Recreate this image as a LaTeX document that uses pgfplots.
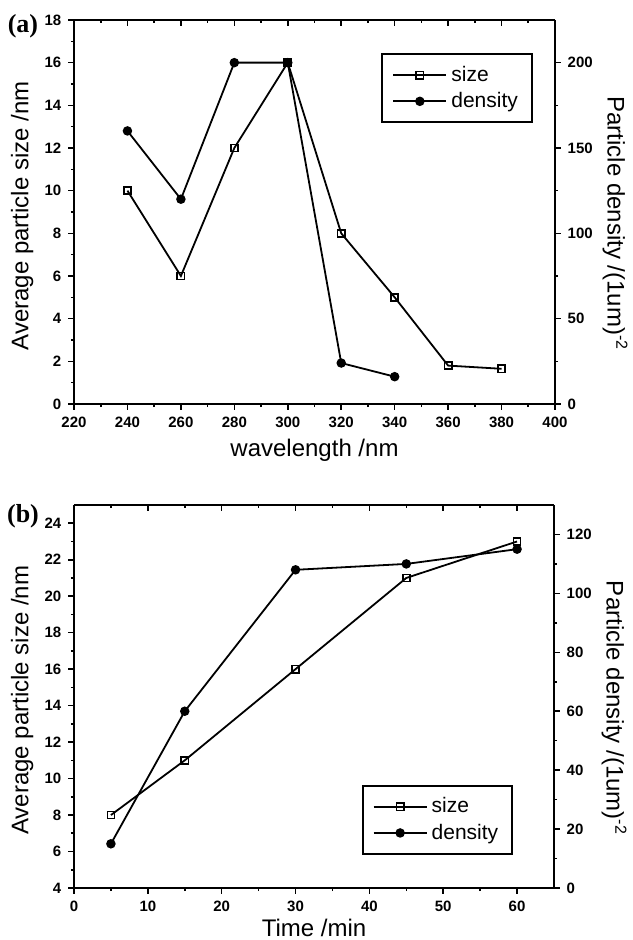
\documentclass[border=0pt]{standalone}
\usepackage{fontspec}
\setmainfont{Liberation Sans}
\newfontfamily\panelfont{Liberation Serif}
\usepackage{pgfplots}
\pgfplotsset{compat=1.18}

\pgfplotsset{
  base/.style={
    scale only axis,
    anchor=south west,
    axis line style={line width=1pt},
    tick style={line width=0.8pt, black},
    major tick length=2.8pt,
    minor tick length=1.6pt,
    tick align=outside,
    ticklabel style={font=\bfseries\fontsize{7.5}{8}\selectfont},
    /pgf/number format/assume math mode=true,
    label style={font=\fontsize{12}{14}\selectfont},
  },
  panelA/.style={base, at={(37pt,268pt)}, width=240.5pt, height=192pt,
    xmin=220, xmax=400, xtick={220,240,...,400}, minor x tick num=1},
  panelB/.style={base, at={(37pt,26pt)}, width=240pt, height=191.5pt,
    xmin=0, xmax=65, xtick={0,10,...,60}, minor x tick num=1},
  leftax/.style={axis x line*=bottom, axis y line*=left,
    ylabel={Average particle size /nm},
    ylabel style={at={(axis description cs:-0.108,0.49)}, anchor=center}},
  rightax/.style={axis x line=none, axis y line*=right,
    ylabel={Particle density /(1um)\textsuperscript{-2}},
    ylabel style={rotate=180, at={(axis description cs:1.125,0.47)}, anchor=center},
    legend cell align=left,
    legend image code/.code={\draw[mark repeat=2,mark phase=2,##1]
      plot coordinates {(0pt,0pt) (13.3pt,0pt) (26.6pt,0pt)};},
    legend style={draw=black, line width=1pt, font=\fontsize{10.5}{12}\selectfont,
      inner xsep=5pt, inner ysep=4pt}},
  topax/.style={axis x line*=top, axis y line=none, tick align=inside,
    xticklabels={}, ymin=0, ymax=1},
  sizeplot/.style={black, line width=0.9pt, mark=square, mark size=1.8pt,
    mark options={fill=white, solid, line width=0.8pt}},
  densplot/.style={black, line width=0.9pt, mark=*, mark size=1.9pt,
    mark options={solid}},
}

\begin{document}
\begin{tikzpicture}
\useasboundingbox (0,0) rectangle (316pt,470pt);

% (a) size and density against wavelength
\begin{axis}[panelA, leftax, ymin=0, ymax=18, ytick={0,2,...,18}, minor y tick num=1,
  xlabel={wavelength /nm},
  xlabel style={at={(axis description cs:0.5,-0.12)}, anchor=center}]
\addplot[sizeplot] coordinates {(240,10) (260,6) (280,12) (300,16) (320,8) (340,5) (360,1.8) (380,1.65)};
\end{axis}
\begin{axis}[panelA, rightax, ymin=0, ymax=225, ytick={0,50,...,200}, minor y tick num=1,
  legend style={at={(0.954,0.914)}, anchor=north east}]
\addlegendimage{sizeplot}
\addlegendentry{size}
\addplot[densplot] coordinates {(240,160) (260,120) (280,200) (300,200) (320,24) (340,16)};
\addlegendentry{density}
\end{axis}
\begin{axis}[panelA, topax]
\addplot[draw=none] coordinates {(220,0)};
\end{axis}

% (b) size and density against time
\begin{axis}[panelB, leftax, ymin=4, ymax=25, ytick={4,6,...,24}, minor y tick num=1,
  xlabel={Time /min},
  xlabel style={at={(axis description cs:0.5,-0.104)}, anchor=center}]
\addplot[sizeplot] coordinates {(5,8) (15,11) (30,16) (45,21) (60,23)};
\end{axis}
\begin{axis}[panelB, rightax, ymin=0, ymax=130, ytick={0,20,...,120}, minor y tick num=1,
  legend style={at={(0.915,0.086)}, anchor=south east}]
\addlegendimage{sizeplot}
\addlegendentry{size}
\addplot[densplot] coordinates {(5,15) (15,60) (30,108) (45,110) (60,115)};
\addlegendentry{density}
\end{axis}
\begin{axis}[panelB, topax]
\addplot[draw=none] coordinates {(0,0)};
\end{axis}

\node[font=\panelfont\bfseries\fontsize{13}{15}\selectfont] at (11.5pt,457pt) {(a)};
\node[font=\panelfont\bfseries\fontsize{13}{15}\selectfont] at (11.5pt,211.7pt) {(b)};
\end{tikzpicture}
\end{document}
